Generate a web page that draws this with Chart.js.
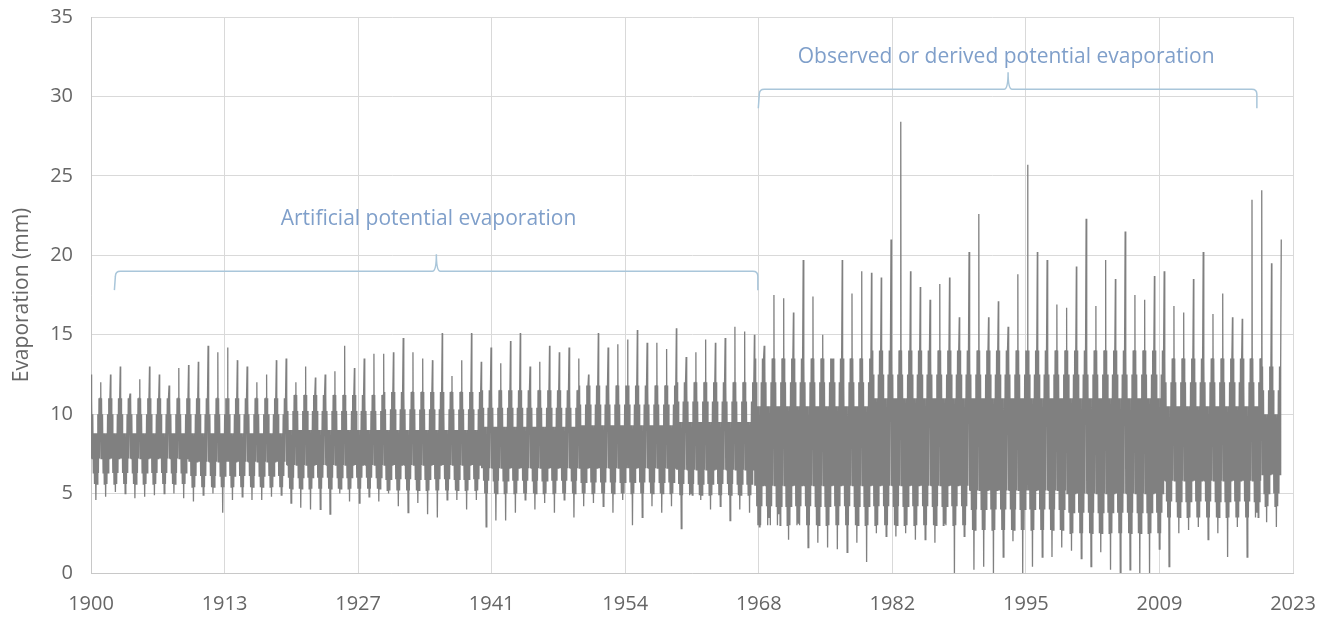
<!DOCTYPE html>
<html>
<head>
<meta charset="utf-8">
<script src="https://cdn.jsdelivr.net/npm/chart.js"></script>
<style>
  html, body { margin: 0; padding: 0; background: #fff; }
  #wrap { width: 1328px; height: 617px; }
</style>
</head>
<body>
<div id="wrap"><canvas id="chart"></canvas></div>
<script>
// daily evaporation, summarised per season
const firstYear = 1900

// summer peak (around 1 Jan) of each year, 1900..2022
const summerPeaks = [
  12.5, 12.0, 12.5, 13.0, 11.3, 12.2, 13.0, 12.5, 11.8, 12.9,
  13.1, 13.3, 14.3, 13.9, 14.2, 13.4, 13.0, 12.0, 12.5, 13.4,
  13.5, 12.0, 13.0, 12.3, 12.5, 12.7, 14.3, 12.9, 13.5, 13.8,
  13.8, 13.9, 14.8, 13.9, 13.5, 13.4, 15.1, 12.4, 13.4, 15.1,
  13.3, 14.2, 13.2, 14.6, 15.1, 13.0, 13.3, 14.3, 13.9, 14.2,
  13.5, 12.5, 15.1, 14.2, 14.4, 14.7, 15.3, 14.5, 14.5, 14.1,
  15.4, 13.6, 13.9, 14.7, 14.5, 14.8, 15.5, 15.2, 15.0, 14.3,
  17.5, 17.3, 16.4, 19.7, 17.4, 15.0, 13.0, 19.7, 17.6, 19.0,
  18.9, 18.6, 21.0, 28.4, 19.0, 18.0, 17.2, 18.2, 18.6, 16.1,
  20.2, 22.6, 16.1, 17.1, 15.5, 18.8, 25.7, 20.2, 19.7, 16.9,
  16.7, 19.3, 22.3, 16.8, 19.7, 18.5, 21.5, 17.5, 17.2, 18.7,
  19.0, 16.8, 16.4, 18.5, 20.2, 16.3, 17.6, 16.1, 16.0, 23.5,
  24.1, 19.5, 21.0
]

// winter low (around July) of each year, 1900..2021
const winterLows = [
  4.6, 4.8, 5.1, 5.0, 4.7, 4.8, 4.9, 5.0, 5.0, 4.7,
  4.5, 4.9, 5.0, 3.8, 4.6, 4.8, 4.6, 4.6, 4.8, 4.9,
  4.4, 4.1, 4.0, 4.0, 3.7, 5.0, 4.5, 4.4, 4.8, 4.5,
  5.0, 4.2, 3.8, 4.4, 3.7, 3.5, 4.6, 4.6, 4.0, 4.6,
  2.9, 3.3, 3.3, 3.8, 4.6, 4.0, 4.4, 3.8, 4.6, 3.5,
  4.2, 4.4, 4.2, 3.8, 4.6, 3.0, 3.5, 4.2, 3.8, 4.2,
  2.8, 5.0, 4.6, 4.0, 4.2, 3.3, 4.0, 3.8, 2.9, 3.5,
  3.7, 2.1, 3.1, 1.6, 1.9, 1.6, 1.5, 1.3, 1.9, 0.7,
  2.5, 2.3, 2.3, 2.5, 2.1, 2.1, 1.9, 3.1, 0.0, 2.3,
  0.2, 0.4, 0.0, 1.0, 2.0, 0.0, 0.4, 1.0, 1.0, 1.6,
  1.4, 0.9, 0.4, 1.3, 0.2, 0.0, 0.2, 0.0, 0.0, 1.5,
  0.4, 2.5, 2.7, 2.9, 2.1, 2.5, 1.0, 2.9, 1.0, 3.8,
  3.2, 2.9
]

// usual day-to-day range in summer, autumn/spring and winter, per period
const bandStart  = [1900, 1910, 1920, 1930, 1940, 1950, 1960, 1968, 1980, 1990, 2000, 2010, 2020]
const summerHigh = [11.0, 11.0, 11.2, 11.4, 11.5, 11.8, 12.0, 13.5, 14.0, 14.0, 14.0, 13.5, 13.0]
const summerLow  = [7.2, 7.0, 6.8, 6.8, 6.6, 6.6, 6.5, 5.5, 5.5, 5.2, 5.0, 5.8, 6.2]
const midHigh    = [10.0, 10.0, 10.2, 10.3, 10.4, 10.6, 10.8, 12.0, 12.5, 12.5, 12.5, 12.0, 11.5]
const midLow     = [6.3, 6.1, 6.0, 5.9, 5.8, 5.7, 5.6, 4.2, 4.2, 4.0, 3.8, 4.5, 5.0]
const winterHigh = [8.8, 8.8, 9.0, 9.0, 9.2, 9.3, 9.5, 10.5, 11.0, 11.0, 11.0, 10.5, 10.0]
const winterLow  = [5.6, 5.4, 5.3, 5.2, 5.0, 5.0, 4.9, 3.0, 3.0, 2.7, 2.5, 3.5, 4.2]

const tickLabels = ['1900', '1913', '1927', '1941', '1954', '1968', '1982', '1995', '2009', '2023']
const tickStepYears = 5000 / 365.25

// where in the year each sample falls and which level it takes
const yearPattern = [
  [0.00, 'peak'], [0.04, 'sLo'], [0.08, 'sHi'], [0.13, 'sLo'], [0.18, 'mHi'],
  [0.24, 'mLo'], [0.30, 'wHi'], [0.36, 'wLo'], [0.43, 'wHi'], [0.50, 'trough'],
  [0.57, 'wHi'], [0.63, 'wLo'], [0.70, 'mHi'], [0.76, 'mLo'], [0.82, 'sHi'],
  [0.88, 'sLo'], [0.94, 'sHi']
]

const points = []
winterLows.forEach((low, i) => {
  const year = firstYear + i
  let d = 0
  bandStart.forEach((start, k) => { if (year >= start) d = k })
  const levels = {
    peak: summerPeaks[i], trough: low,
    sHi: summerHigh[d], sLo: summerLow[d], mHi: midHigh[d], mLo: midLow[d],
    wHi: winterHigh[d], wLo: winterLow[d]
  }
  yearPattern.forEach(([frac, key]) => points.push({ x: year + frac, y: levels[key] }))
})
points.push({ x: firstYear + summerPeaks.length - 1, y: summerPeaks[summerPeaks.length - 1] })

const notes = [
  { text: 'Artificial potential evaporation', x: 1934.6, y: 22.3, from: 1902.5, to: 1968.35, at: 19.0, tip: 1935.4 },
  { text: 'Observed or derived potential evaporation', x: 1993.8, y: 32.5, from: 1968.5, to: 2019.5, at: 30.45, tip: 1994.0 }
]

const bracePlugin = {
  id: 'braces',
  afterDatasetsDraw(chart) {
    const { ctx, scales: { x, y } } = chart
    ctx.save()
    notes.forEach(n => {
      const x1 = x.getPixelForValue(n.from)
      const x2 = x.getPixelForValue(n.to)
      const xt = x.getPixelForValue(n.tip)
      const yl = y.getPixelForValue(n.at)
      const r = 5
      ctx.strokeStyle = '#a9c6da'
      ctx.lineWidth = 1.5
      ctx.beginPath()
      ctx.moveTo(x1 - 1, yl + 19)
      ctx.lineTo(x1, yl + r)
      ctx.quadraticCurveTo(x1, yl, x1 + r, yl)
      ctx.lineTo(xt - 4, yl)
      ctx.quadraticCurveTo(xt, yl, xt, yl - 17)
      ctx.moveTo(xt, yl - 17)
      ctx.quadraticCurveTo(xt, yl, xt + 4, yl)
      ctx.lineTo(x2 - r, yl)
      ctx.quadraticCurveTo(x2, yl, x2, yl + r)
      ctx.lineTo(x2, yl + 19)
      ctx.stroke()

      ctx.fillStyle = '#7f9fca'
      ctx.font = '21px "Open Sans"'
      ctx.textAlign = 'center'
      ctx.textBaseline = 'middle'
      ctx.fillText(n.text, x.getPixelForValue(n.x), y.getPixelForValue(n.y))
    })
    ctx.restore()
  }
}

new Chart(document.getElementById('chart'), {
  type: 'line',
  data: {
    datasets: [{
      data: points,
      borderColor: '#808080',
      borderWidth: 1.3,
      pointRadius: 0,
      tension: 0,
      fill: false
    }]
  },
  options: {
    responsive: true,
    maintainAspectRatio: false,
    animation: false,
    parsing: false,
    normalized: true,
    layout: { padding: { left: 0, right: 35, top: 17, bottom: 0 } },
    plugins: { legend: { display: false }, tooltip: { enabled: false } },
    scales: {
      x: {
        type: 'linear',
        min: firstYear,
        max: firstYear + 9 * tickStepYears,
        afterBuildTicks: s => { s.ticks = tickLabels.map((_, i) => ({ value: firstYear + i * tickStepYears })) },
        afterFit: s => { s.height = 44; s.paddingLeft = 0; s.paddingRight = 0 },
        ticks: {
          autoSkip: false,
          maxRotation: 0,
          padding: 19,
          color: '#666',
          font: { family: 'Open Sans', size: 20 },
          callback: (v, i) => tickLabels[i]
        },
        grid: { color: '#d9d9d9', drawTicks: false },
        border: { color: '#c8c8c8' }
      },
      y: {
        min: 0,
        max: 35,
        afterFit: s => { s.width = 91; s.paddingTop = 0; s.paddingBottom = 0 },
        ticks: {
          stepSize: 5,
          padding: 18,
          color: '#666',
          font: { family: 'Open Sans', size: 20 }
        },
        grid: { color: '#d9d9d9', drawTicks: false },
        border: { color: '#c8c8c8' },
        title: {
          display: true,
          text: 'Evaporation (mm)',
          color: '#666',
          font: { family: 'Open Sans', size: 21 },
          padding: { top: 9, bottom: 0 }
        }
      }
    }
  },
  plugins: [bracePlugin]
})
</script>
</body>
</html>
